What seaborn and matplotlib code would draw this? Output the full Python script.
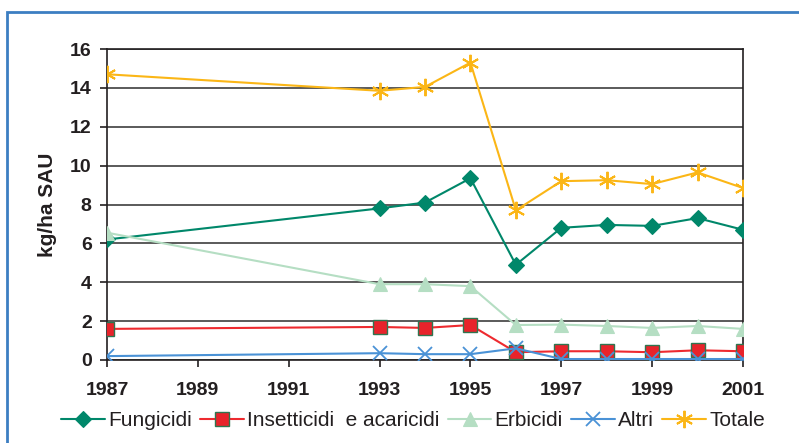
import matplotlib
matplotlib.use("Agg")
import matplotlib.pyplot as plt
from matplotlib.patches import Rectangle
from matplotlib.lines import Line2D
import seaborn as sns
import pandas as pd

# Annual pesticide use, kg per hectare of SAU
anni = [1987, 1993, 1994, 1995, 1996, 1997, 1998, 1999, 2000, 2001]
fungicidi = [6.2, 7.8, 8.1, 9.35, 4.9, 6.8, 6.95, 6.9, 7.3, 6.7]
insetticidi = [1.6, 1.7, 1.65, 1.8, 0.4, 0.45, 0.45, 0.4, 0.5, 0.45]
erbicidi = [6.55, 3.9, 3.9, 3.8, 1.8, 1.82, 1.75, 1.65, 1.75, 1.6]
altri = [0.2, 0.35, 0.3, 0.3, 0.6, 0.05, 0.05, 0.05, 0.05, 0.05]
totale = [14.7, 13.85, 14.05, 15.3, 7.7, 9.2, 9.25, 9.05, 9.65, 8.85]

serie = ["Fungicidi", "Insetticidi  e acaricidi", "Erbicidi", "Altri", "Totale"]
valori = [fungicidi, insetticidi, erbicidi, altri, totale]

x_ticks = [1987, 1989, 1991, 1993, 1995, 1997, 1999, 2001]
y_ticks = [0, 2, 4, 6, 8, 10, 12, 14, 16]

df = pd.DataFrame(
    [(a, s, v) for s, vals in zip(serie, valori) for a, v in zip(anni, vals)],
    columns=["anno", "serie", "valore"],
)

sns.set_theme(style="white")
plt.rcParams["font.family"] = ["Liberation Sans", "DejaVu Sans"]

stili = {
    "Fungicidi": dict(color="#00876A", marker="D", ms=8, mfc="#00876A", mec="#00876A", mew=0.8),
    "Insetticidi  e acaricidi": dict(color="#EE2A2F", marker="s", ms=9.5, mfc="#E8232B", mec="#2F7550", mew=1.0),
    "Erbicidi": dict(color="#B5DEC3", marker="^", ms=10.5, mfc="#B5DEC3", mec="#B5DEC3", mew=0.8),
    "Altri": dict(color="#4A92D6", marker="x", ms=9.5, mfc="#4A92D6", mec="#4A92D6", mew=1.3),
    "Totale": dict(color="#FBB616", marker=(6, 2, 0), ms=12.5, mfc="#FBB616", mec="#FBB616", mew=1.4),
}

fig = plt.figure(figsize=(7.99, 4.43), dpi=100)
ax = fig.add_axes([107 / 799, 1 - 360 / 443, (743 - 107) / 799, (360 - 49) / 443])

for s in serie:
    st = stili[s]
    sns.lineplot(
        data=df[df["serie"] == s], x="anno", y="valore", ax=ax,
        color=st["color"], linewidth=1.5, marker=st["marker"],
        markersize=st["ms"], markerfacecolor=st["mfc"],
        markeredgecolor=st["mec"], markeredgewidth=st["mew"],
        legend=False, zorder=3,
    )

ax.set_xlim(1987, 2001)
ax.set_ylim(0, 16)
ax.set_xticks(x_ticks)
ax.set_yticks(y_ticks)
ax.set_xticklabels([str(t) for t in x_ticks], fontsize=14, fontweight="bold", color="#231F20")
ax.set_yticklabels([str(t) for t in y_ticks], fontsize=14, fontweight="bold", color="#231F20")
ax.set_xlabel("")
ax.set_ylabel("kg/ha SAU", fontsize=15, fontweight="bold", color="#231F20", labelpad=9)

ax.grid(axis="y", color="#4D4D4D", linewidth=1.3, zorder=0)
ax.set_axisbelow(True)
for sp in ax.spines.values():
    sp.set_visible(True)
    sp.set_color("#231F20")
    sp.set_linewidth(1.2)
ax.tick_params(axis="x", direction="out", length=5, width=1.2, color="#231F20", pad=11, bottom=True)
ax.tick_params(axis="y", direction="out", length=5, width=1.2, color="#231F20", pad=6, left=True)

handles = []
for s in serie:
    st = stili[s]
    handles.append(Line2D([], [], color=st["color"], linewidth=1.5, marker=st["marker"],
                          markersize=st["ms"], markerfacecolor=st["mfc"],
                          markeredgecolor=st["mec"], markeredgewidth=st["mew"]))
fig.legend(handles, serie, loc="center", bbox_to_anchor=(413 / 799, 1 - 421 / 443),
           ncol=5, frameon=False, fontsize=15, handlelength=2.1, handletextpad=0.15,
           columnspacing=0.4, borderaxespad=0, labelcolor="#231F20")

# Blue border around the chart area
fig.patches.append(Rectangle((7 / 799, -0.2), 1.2, 1.2 - 12 / 443, transform=fig.transFigure,
                             fill=False, edgecolor="#3C7EC2", linewidth=2, zorder=10))

fig.savefig("out.png", dpi=100)
